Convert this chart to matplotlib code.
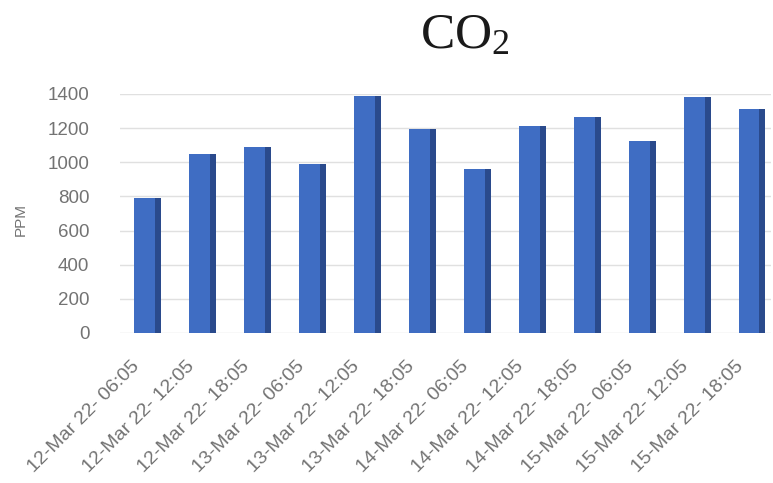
import matplotlib
matplotlib.use("Agg")
import matplotlib.pyplot as plt
import matplotlib.transforms as mtransforms
import numpy as np

categories = ["12-Mar 22- 06:05", "12-Mar 22- 12:05", "12-Mar 22- 18:05",
              "13-Mar 22- 06:05", "13-Mar 22- 12:05", "13-Mar 22- 18:05",
              "14-Mar 22- 06:05", "14-Mar 22- 12:05", "14-Mar 22- 18:05",
              "15-Mar 22- 06:05", "15-Mar 22- 12:05", "15-Mar 22- 18:05"]
ppm = [790, 1050, 1090, 990, 1390, 1195, 960, 1210, 1265, 1125, 1385, 1315]
yticks = [0, 200, 400, 600, 800, 1000, 1200, 1400]

plt.rcParams['mathtext.fontset'] = 'custom'
plt.rcParams['mathtext.rm'] = 'Liberation Serif'
plt.rcParams['mathtext.it'] = 'Liberation Serif:italic'

fig = plt.figure(figsize=(7.73, 4.83), dpi=100)
ax = fig.add_axes([0.1552, 0.3106, 0.8422, 0.4948])

x = np.arange(len(categories))
front_w = 0.38
side_w = 0.11
ax.bar(x, ppm, width=front_w, color='#3F6DC3', zorder=3, clip_on=False)
ax.bar(x + front_w / 2, ppm, width=side_w, align='edge', color='#2A4A8C',
       zorder=2, clip_on=False)

ax.set_xlim(-0.45, 11.4)
ax.set_ylim(0, 1400)
ax.set_yticks(yticks)
ax.set_xticks(x)
ax.set_xticklabels(categories)
ax.grid(axis='y', color='#e0e0e0', linewidth=1, zorder=0)
for s in ax.spines.values():
    s.set_visible(False)

grey = '#737373'
ax.tick_params(axis='both', length=0, colors=grey)
ax.tick_params(axis='y', pad=22, labelsize=13.5)
ax.tick_params(axis='x', pad=22, labelsize=14)
for lab in ax.get_yticklabels():
    lab.set_fontfamily('Liberation Sans')
offset = mtransforms.ScaledTranslation(-8 / 100, 0, fig.dpi_scale_trans)
for lab in ax.get_xticklabels():
    lab.set_fontfamily('Liberation Sans')
    lab.set_rotation(45)
    lab.set_ha('right')
    lab.set_va('center')
    lab.set_rotation_mode('anchor')
    lab.set_transform(lab.get_transform() + offset)

fig.text(21 / 773, 1 - 219 / 483, 'PPM', rotation=90, ha='center', va='center',
         color=grey, fontsize=11, fontfamily='Liberation Sans')
fig.text(465 / 773, 1 - 48 / 483, r'CO$_2$', ha='center', va='baseline',
         fontsize=37, color='#1a1a1a', fontfamily='Liberation Serif')

fig.savefig('out.png', dpi=100)
